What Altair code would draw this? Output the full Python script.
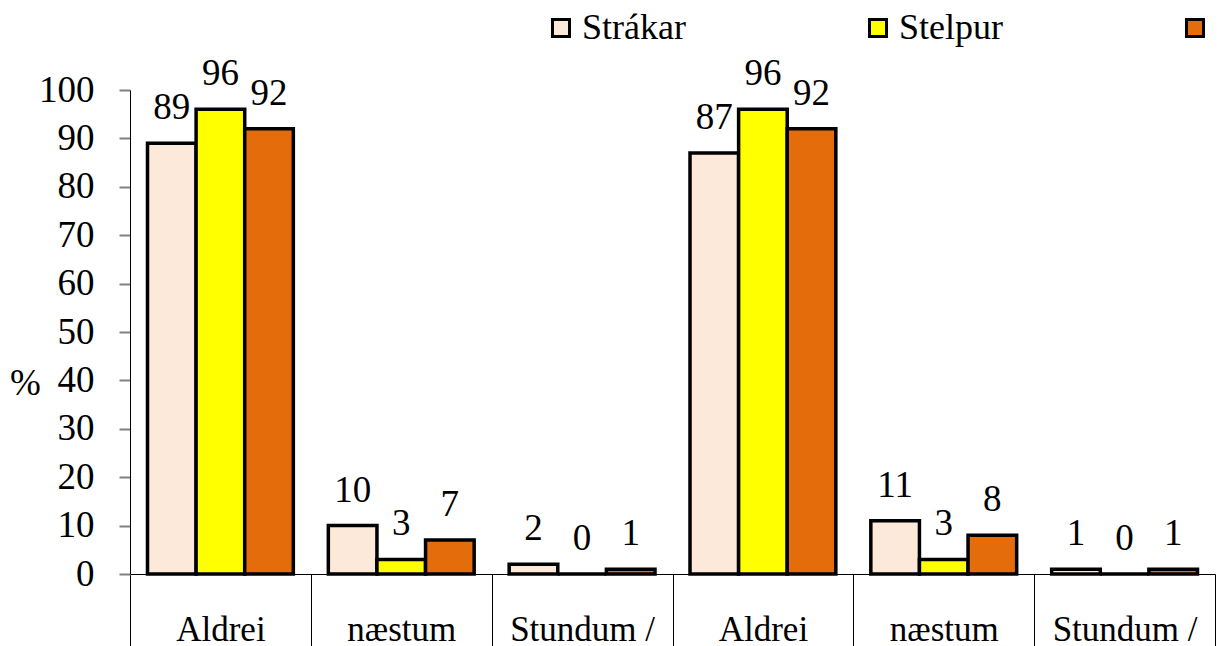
import altair as alt
import pandas as pd

categories = ["Aldrei", "næstum", "Stundum /", "Aldrei", "næstum", "Stundum /"]
series = ["Strákar", "Stelpur", "\u200b"]
colors = ["#FDE9D9", "#FFFF00", "#E46C0A"]
v_strakar = [89, 10, 2, 87, 11, 1]
v_stelpur = [96, 3, 0, 96, 3, 0]
v_third = [92, 7, 1, 92, 8, 1]
y_ticks = [0, 10, 20, 30, 40, 50, 60, 70, 80, 90, 100]

rows = []
for i in range(len(categories)):
    for s, vals in zip(series, [v_strakar, v_stelpur, v_third]):
        rows.append({"idx": i, "series": s, "value": vals[i]})
df = pd.DataFrame(rows)

label_expr = "[" + ",".join(f"'{c}'" for c in categories) + "][datum.value]"
FONT = "Liberation Serif"

x_enc = alt.X("idx:O",
              scale=alt.Scale(paddingInner=0, paddingOuter=0),
              axis=alt.Axis(title=None, labelExpr=label_expr, labelAngle=0,
                            labelFont=FONT, labelFontSize=35,
                            labelColor="black", labelBaseline="top",
                            tickBand="extent", tickSize=85, tickColor="black",
                            tickWidth=1, domainColor="black", domainWidth=1,
                            labelPadding=-47))
xoff = alt.XOffset("series:N", sort=series,
                   scale=alt.Scale(paddingInner=0, paddingOuter=0.36))
y_enc = alt.Y("value:Q", scale=alt.Scale(domain=[0, 100]),
              axis=alt.Axis(title="%", titleAngle=0, titleFont=FONT,
                            titleFontSize=37, titleFontWeight="normal",
                            titleColor="black", titleX=-105, titleY=293,
                            titleAlign="center", titleBaseline="middle",
                            values=y_ticks, grid=False, labelFont=FONT,
                            labelFontSize=37, labelColor="black", labelPadding=25,
                            tickSize=11, tickColor="#808080", tickWidth=2,
                            domainColor="black", domainWidth=1))

bars = alt.Chart(df).mark_bar(stroke="black", strokeWidth=3.5).encode(
    x=x_enc,
    xOffset=xoff,
    y=y_enc,
    color=alt.Color("series:N", sort=series,
                    scale=alt.Scale(domain=series, range=colors),
                    legend=alt.Legend(title=None, orient="none", direction="horizontal",
                                      columns=3, gridAlign="all", legendX=413, legendY=-80,
                                      symbolType="square", symbolSize=290,
                                      symbolStrokeColor="black", symbolStrokeWidth=3,
                                      symbolOpacity=1, labelFont=FONT,
                                      labelFontSize=36, labelColor="black",
                                      labelOffset=3, columnPadding=174,
                                      labelLimit=300)),
)

texts = alt.Chart(df).mark_text(font=FONT, fontSize=37, color="black",
                                baseline="alphabetic", dy=-24).encode(
    x=x_enc,
    xOffset=xoff,
    y=alt.Y("value:Q"),
    text=alt.Text("value:Q"),
)

chart = alt.layer(bars, texts).properties(
    width=1085, height=484,
    autosize=alt.AutoSizeParams(type="none"),
    padding={"left": 122, "top": 82, "right": 6, "bottom": 72},
).configure_view(stroke=None)

chart.save("out.html", embed_options={"renderer": "svg", "actions": False})
